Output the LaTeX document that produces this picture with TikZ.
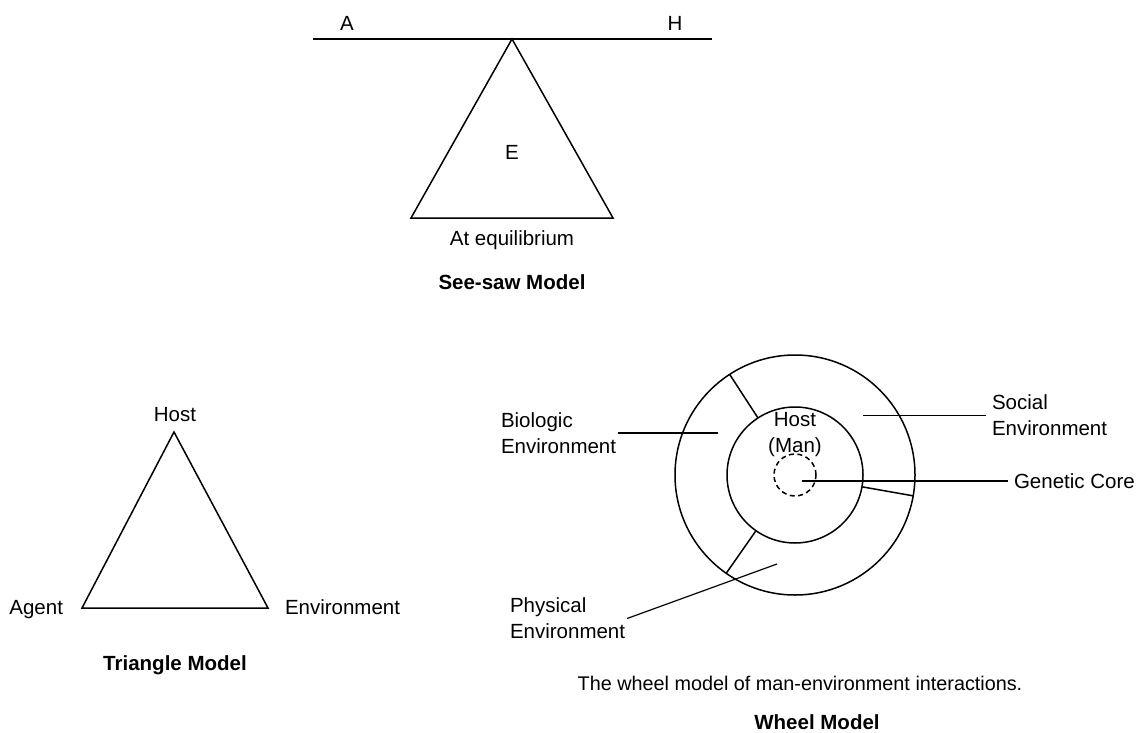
\documentclass[tikz,border=0pt]{standalone}
\usepackage{fontspec}
\setmainfont{Liberation Sans}
\begin{document}
\begin{tikzpicture}[x=1pt,y=-1pt,
  lbl/.style={inner sep=0pt,outer sep=0pt,font=\fontsize{20.5}{26}\selectfont},
  ttl/.style={lbl,font=\fontsize{20.5}{26}\selectfont\bfseries},
  edge/.style={line width=1.5pt,line join=miter},
  lead/.style={line width=1.2pt},
  ring/.style={circle,draw,line width=1.5pt,inner sep=0pt,outer sep=0pt}]
\useasboundingbox (0,0) rectangle (1140,733);

% ---- see-saw model ----
\coordinate (beamL) at (313,39);
\coordinate (beamR) at (712,39);
\coordinate (pivot) at (512,39);
\coordinate (fulcL) at (411,218);
\coordinate (fulcR) at (613,218);
\draw[edge] (beamL) -- (beamR);
\draw[edge] (pivot) -- (fulcR) -- (fulcL) -- cycle;
\node[lbl,anchor=base] (lA) at (347,31) {A};
\node[lbl,anchor=base] (lH) at (675,31) {H};
\node[lbl,anchor=base] (lE) at (512,160) {E};
\node[lbl,anchor=base] (equil) at (512,245) {At equilibrium};
\node[ttl,anchor=base] (seesaw) at (512,289) {See-saw Model};

% ---- triangle model ----
\coordinate (tHost) at (174,432);
\coordinate (tAgent) at (82,608);
\coordinate (tEnv) at (268,608);
\draw[edge] (tHost) -- (tEnv) -- (tAgent) -- cycle;
\node[lbl,anchor=base] (host) at (175,421) {Host};
\node[lbl,anchor=base east] (agent) at (63,614) {Agent};
\node[lbl,anchor=base west] (env) at (285,614) {Environment};
\node[ttl,anchor=base] (trimodel) at (175,670) {Triangle Model};

% ---- wheel model ----
\node[ring,minimum size=240pt] (outer) at (795,475) {};
\node[ring,minimum size=136pt] (inner) at (795,475) {};
\node[ring,minimum size=42pt,dash pattern=on 5pt off 3.5pt] (core) at (795,475) {};
\draw[edge] (outer.123) -- (inner.123);
\draw[edge] (outer.235) -- (inner.235);
\draw[edge] (outer.-10) -- (inner.-10);

\node[lbl,anchor=north,align=center] (man) at (795,412) {Host\\(Man)};

\node[lbl,anchor=west,align=left,inner xsep=6pt] (social) at (986,415.5) {Social\\Environment};
\node[lbl,anchor=west,align=left,inner xsep=2pt] (bio) at (499,433) {Biologic\\Environment};
\node[lbl,anchor=west,inner xsep=6pt] (genetic) at (1008,481) {Genetic Core};
\node[lbl,anchor=west,align=left,inner xsep=2pt] (phys) at (508,618.5) {Physical\\Environment};

\coordinate (pSocial) at (863,415.5);
\coordinate (pBio) at (718,433);
\coordinate (pCore) at (802,481);
\coordinate (pPhys) at (777,564);
\draw[lead] (pSocial) -- (social.west);
\draw[lead] (bio.east) -- (pBio);
\draw[lead] (pCore) -- (genetic.west);
\draw[lead] (pPhys) -- (phys.east);

\node[lbl,anchor=base,font=\fontsize{19.8}{26}\selectfont] (caption) at (800,690) {The wheel model of man-environment interactions.};
\node[ttl,anchor=base] (wheel) at (817,729) {Wheel Model};
\end{tikzpicture}
\end{document}
